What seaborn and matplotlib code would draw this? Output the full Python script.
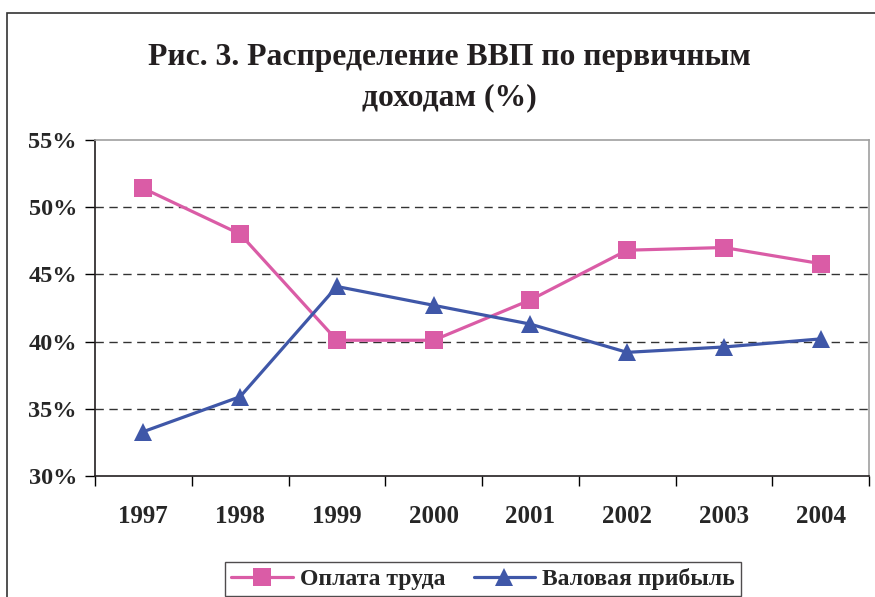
import pandas as pd
import seaborn as sns
import matplotlib.pyplot as plt
from matplotlib.patches import Rectangle
from matplotlib.ticker import FixedLocator, FuncFormatter

# chart data
years = ['1997', '1998', '1999', '2000', '2001', '2002', '2003', '2004']
wages = [51.4, 48.0, 40.1, 40.1, 43.1, 46.8, 47.0, 45.8]
profit = [33.3, 35.9, 44.1, 42.7, 41.3, 39.2, 39.6, 40.2]
series_names = ['Оплата труда', 'Валовая прибыль']
y_ticks = [30, 35, 40, 45, 50, 55]

df = pd.DataFrame({
    'year': years * 2,
    'value': wages + profit,
    'series': [series_names[0]] * len(years) + [series_names[1]] * len(years),
})

sns.set_style('white')
plt.rcParams['font.family'] = ['Liberation Serif', 'DejaVu Serif']
plt.rcParams['font.weight'] = 'bold'

fig = plt.figure(figsize=(8.75, 5.97), dpi=100)
ax = fig.add_axes([95 / 875, 121 / 597, 774 / 875, 336 / 597])

palette = {series_names[0]: '#DA5CA6', series_names[1]: '#3F57A8'}
markers = {series_names[0]: 's', series_names[1]: '^'}
sns.lineplot(data=df, x='year', y='value', hue='series', style='series',
             palette=palette, markers=markers, dashes=False, linewidth=2.3,
             markersize=13, markeredgewidth=0, ax=ax, sort=False)

ax.set_xlim(-0.5, len(years) - 0.5)
ax.set_ylim(30, 55)
ax.set_xlabel('')
ax.set_ylabel('')

# category axis: ticks between categories, labels centred
ax.xaxis.set_minor_locator(FixedLocator([i - 0.5 for i in range(len(years) + 1)]))
ax.tick_params(axis='x', which='major', length=0, pad=21, labelsize=18)
ax.tick_params(axis='x', which='minor', length=7, width=1, color='black', direction='out')
ax.tick_params(axis='x', which='minor', bottom=True)
ax.set_yticks(y_ticks)
ax.yaxis.set_major_formatter(FuncFormatter(lambda v, p: f'{v:.0f}%'))
ax.tick_params(axis='y', length=7, width=1, color='black', direction='out', labelsize=17.5, pad=6, left=True)
for lab in ax.get_xticklabels() + ax.get_yticklabels():
    lab.set_fontweight('bold')

ax.grid(axis='y', color='#333333', linestyle=(0, (6, 4)), linewidth=1)
ylines = ax.get_ygridlines()
ylines[0].set_visible(False)
ylines[-1].set_visible(False)

ax.spines['left'].set_color('#231F20')
ax.spines['bottom'].set_color('#231F20')
ax.spines['top'].set_color('#A0A0A0')
ax.spines['right'].set_color('#A0A0A0')
for s in ax.spines.values():
    s.set_linewidth(1.2)

ax.legend_.remove()
handles, labels = ax.get_legend_handles_labels()
leg = fig.legend(handles, labels, loc='upper center', bbox_to_anchor=(483 / 875, 1 - 562 / 597),
                 ncol=2, frameon=True, fancybox=False, edgecolor='#231F20',
                 prop={'weight': 'bold', 'size': 17}, handlelength=2.6, handletextpad=0.3,
                 columnspacing=1.2, borderpad=0.25, borderaxespad=0)
leg.get_frame().set_linewidth(1)

fig.text(449 / 875, 1 - 78 / 597, 'Рис. 3. Распределение ВВП по первичным\nдоходам (%)',
         ha='center', va='center', fontsize=22.8, fontweight='bold', linespacing=1.5,
         color='#231F20')

fig.add_artist(Rectangle((7 / 875, -0.1), 1.0, 1 - 13 / 597 + 0.1, transform=fig.transFigure,
                         fill=False, edgecolor='#333333', linewidth=1.2))

fig.savefig('out.png', dpi=100)
